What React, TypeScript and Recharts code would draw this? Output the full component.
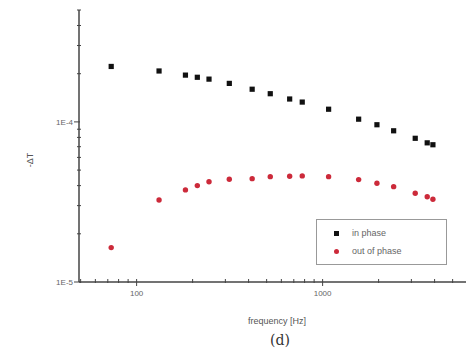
import React from 'react';
import { ScatterChart, Scatter, XAxis, YAxis } from 'recharts';

const frequencies = [73, 132, 183, 212, 245, 315, 418, 523, 665, 777, 1077, 1562, 1959, 2409, 3147, 3650, 3917];
const inPhase = [2.22e-4, 2.08e-4, 1.96e-4, 1.9e-4, 1.85e-4, 1.74e-4, 1.6e-4, 1.5e-4, 1.39e-4, 1.33e-4, 1.2e-4, 1.04e-4, 9.6e-5, 8.8e-5, 7.9e-5, 7.4e-5, 7.2e-5];
const outOfPhase = [1.64e-5, 3.25e-5, 3.76e-5, 4.0e-5, 4.23e-5, 4.38e-5, 4.42e-5, 4.55e-5, 4.58e-5, 4.6e-5, 4.55e-5, 4.36e-5, 4.14e-5, 3.94e-5, 3.58e-5, 3.41e-5, 3.29e-5];
const xTicks = [50, 60, 70, 80, 90, 100, 200, 300, 400, 500, 600, 700, 800, 900, 1000, 2000, 3000, 4000, 5000];
const xLabels: Record<number, string> = { 100: '100', 1000: '1000' };
const yTicks = [1e-5, 2e-5, 3e-5, 4e-5, 5e-5, 6e-5, 7e-5, 8e-5, 9e-5, 1e-4, 2e-4, 3e-4, 4e-4, 5e-4];
const yLabels: Record<string, string> = { '0.00001': '1E-5', '0.0001': '1E-4' };
const seriesNames = ['in phase', 'out of phase'];

const inData = frequencies.map((f, i) => ({ f, v: inPhase[i] }));
const outData = frequencies.map((f, i) => ({ f, v: outOfPhase[i] }));

const AXIS = '#444';
const RED = '#cc2a3a';
const FONT = 'Liberation Sans, Arial, sans-serif';

const XTick = (props: any) => {
  const { x, y, payload } = props;
  const label = xLabels[payload.value];
  const major = !!label;
  return (
    <g>
      <line x1={x} x2={x} y1={y - 3} y2={major ? y + 4 : y + 1} stroke={AXIS} strokeWidth={1} />
      {label && (
        <text x={x} y={y + 14} textAnchor="middle" fontSize={8} fill="#666" fontFamily={FONT}>{label}</text>
      )}
    </g>
  );
};

const YTick = (props: any) => {
  const { x, y, payload } = props;
  const label = yLabels[String(payload.value)];
  const major = !!label;
  return (
    <g>
      <line x1={major ? x - 5 : x - 2} x2={x + (major ? 1 : 2)} y1={y} y2={y} stroke={AXIS} strokeWidth={1} />
      {label && (
        <text x={x - 6} y={y + 3} textAnchor="end" fontSize={8} fill="#666" fontFamily={FONT}>{label}</text>
      )}
    </g>
  );
};

const Square = (props: any) => {
  const { cx, cy } = props;
  return <rect x={cx - 2.6} y={cy - 2.6} width={5.2} height={5.2} fill="#111" />;
};
const Dot = (props: any) => {
  const { cx, cy } = props;
  return <circle cx={cx} cy={cy} r={2.7} fill={RED} />;
};

const LegendBox = () => (
  <div style={{ position: 'absolute', left: 316, top: 219, border: '1px solid #999', width: 131, height: 46, boxSizing: 'border-box', fontFamily: FONT, fontSize: 9, color: '#666', background: '#fff' }}>
    <div style={{ position: 'absolute', left: 17, top: 11, width: 5, height: 5, background: '#111' }} />
    <div style={{ position: 'absolute', left: 35, top: 8, lineHeight: '10px' }}>{seriesNames[0]}</div>
    <div style={{ position: 'absolute', left: 17, top: 29, width: 5, height: 5, borderRadius: 3, background: RED }} />
    <div style={{ position: 'absolute', left: 35, top: 26, lineHeight: '10px' }}>{seriesNames[1]}</div>
  </div>
);

export default function App() {
  return (
    <div style={{ position: 'absolute', left: 0, top: 0, width: 466, height: 351, background: '#fff' }}>
      <ScatterChart width={466} height={351} margin={{ top: 10, right: 0, bottom: 0, left: 0 }}>
        <XAxis
          dataKey="f"
          type="number"
          scale="log"
          domain={[49, 5900]}
          ticks={xTicks}
          allowDataOverflow
          height={69}
          tickSize={0}
          tickMargin={0}
          tick={<XTick />}
          interval={0}
          stroke={AXIS}
          strokeWidth={1.5}
          label={() => (
            <text x={277} y={324} textAnchor="middle" fontSize={9} fill="#555" fontFamily={FONT}>frequency [Hz]</text>
          )}
        />
        <YAxis
          dataKey="v"
          type="number"
          scale="log"
          domain={[1e-5, 5e-4]}
          ticks={yTicks}
          allowDataOverflow
          width={79}
          tickSize={0}
          tickMargin={0}
          tick={<YTick />}
          interval={0}
          stroke={AXIS}
          strokeWidth={1.5}
          label={() => (
            <text x={33} y={160} transform="rotate(-90 33 160)" textAnchor="middle" fontSize={9} fill="#555" fontFamily={FONT}>-ΔT</text>
          )}
        />
        <Scatter name={seriesNames[0]} data={inData} shape={<Square />} isAnimationActive={false} />
        <Scatter name={seriesNames[1]} data={outData} shape={<Dot />} isAnimationActive={false} />
      </ScatterChart>
      <LegendBox />
      <div style={{ position: 'absolute', left: 270, top: 332, fontFamily: 'DejaVu Serif, Liberation Serif, serif', fontSize: 14, color: '#333' }}>(d)</div>
    </div>
  );
}
